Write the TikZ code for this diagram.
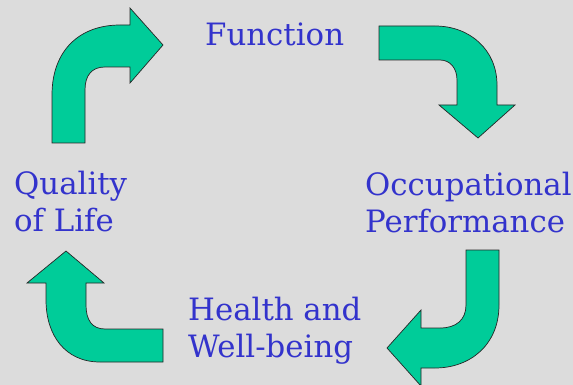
\documentclass[tikz,border=0pt]{standalone}
\usepackage{fontspec}
\setmainfont{DejaVu Serif}
\definecolor{bg}{HTML}{DCDCDC}
\definecolor{arrowfill}{HTML}{00CC99}
\definecolor{txt}{HTML}{3333CC}
\begin{document}
\begin{tikzpicture}[x=1pt,y=-1pt,
  bigarrow/.style={fill=arrowfill,draw=black!85,line width=0.7pt,line join=miter},
  label/.style={text=txt,anchor=base west,inner sep=0pt,align=left,font=\fontsize{30.8}{37}\selectfont}]
\fill[bg] (0,0) rectangle (573,385);
\useasboundingbox (0,0) rectangle (573,385);
% top-left arrow
\draw[bigarrow] (52,143) -- (52,95) .. controls (52,50) and (80,25) .. (120,25) -- (130,25) -- (130,8) -- (163,45) -- (130,83) -- (130,67) -- (105,67) .. controls (92,67) and (85,75) .. (85,90) -- (85,143) -- cycle;
% top-right arrow
\draw[bigarrow] (379,26) -- (435,26) .. controls (470,26) and (497,50) .. (497,85) -- (497,105) -- (515,105) -- (478,138) -- (439,105) -- (457,105) -- (457,80) .. controls (457,68) and (450,60) .. (440,60) -- (379,60) -- cycle;
% bottom-right arrow
\draw[bigarrow] (466,250) -- (499,250) -- (499,305) .. controls (499,345) and (470,368) .. (435,368) -- (421,368) -- (421,386) -- (387,348) -- (421,310) -- (421,328) -- (440,328) .. controls (456,328) and (466,320) .. (466,305) -- cycle;
% bottom-left arrow
\draw[bigarrow] (163,329) -- (163,362) -- (100,362) .. controls (65,362) and (46,335) .. (46,300) -- (46,283) -- (27,283) -- (66,251) -- (104,283) -- (86,283) -- (86,305) .. controls (86,320) and (92,329) .. (105,329) -- cycle;
% labels
\node[label] (fn) at (205,46) {Function};
\node[label] (ql) at (14,231) {Quality\\of Life};
\node[label] (op) at (365,232) {Occupational\\Performance};
\node[label] (hw) at (188,357) {Health and\\Well-being};
\end{tikzpicture}
\end{document}
